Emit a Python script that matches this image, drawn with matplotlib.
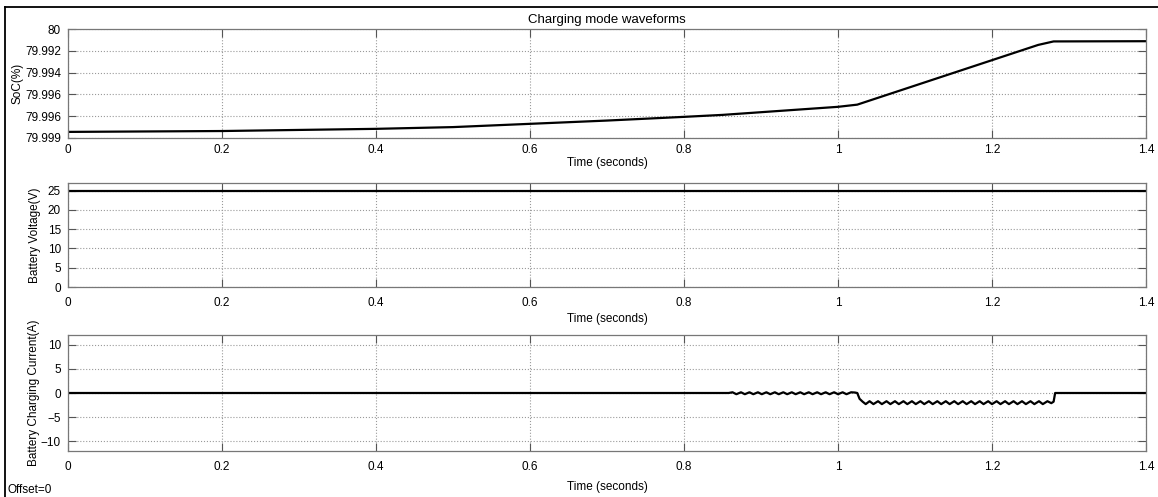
import matplotlib
matplotlib.use("Agg")
import matplotlib.pyplot as plt
from matplotlib.lines import Line2D

plt.rcParams['font.family'] = ['Liberation Sans', 'DejaVu Sans']

# SoC trace, in grid units (0 = bottom tick, 5 = top tick)
soc_t = [0.0, 0.2, 0.4, 0.5, 0.6, 0.7, 0.8, 0.85, 1.0, 1.025, 1.26, 1.28, 1.4]
soc_v = [0.28, 0.32, 0.42, 0.50, 0.65, 0.80, 0.97, 1.06, 1.43, 1.53, 4.27, 4.43, 4.44]
soc_ticks = [0, 1, 2, 3, 4, 5]
soc_labels = ['79.999', '79.996', '79.996', '79.994', '79.992', '80']

# battery voltage
volt_t = [0.0, 1.4]
volt_v = [24.8, 24.8]

# charging current, with the ripple read as alternating peaks
cur_t = [0.0, 0.858,
         0.863, 0.868, 0.874, 0.879, 0.885, 0.890, 0.896, 0.901, 0.907, 0.912,
         0.918, 0.923, 0.929, 0.934, 0.940, 0.945, 0.951, 0.956, 0.962, 0.967,
         0.973, 0.978, 0.984, 0.989, 0.995, 1.000, 1.006, 1.011, 1.017, 1.022,
         1.025, 1.028, 1.032,
         1.036, 1.041, 1.046, 1.052, 1.057, 1.063, 1.068, 1.074, 1.079, 1.085,
         1.090, 1.096, 1.101, 1.107, 1.112, 1.118, 1.123, 1.129, 1.134, 1.140,
         1.145, 1.151, 1.156, 1.162, 1.167, 1.173, 1.178, 1.184, 1.189, 1.195,
         1.200, 1.206, 1.211, 1.217, 1.222, 1.228, 1.233, 1.239, 1.244, 1.250,
         1.255, 1.261, 1.266, 1.272, 1.277,
         1.280, 1.282, 1.4]
cur_v = [0.0, 0.0,
         0.15, -0.25, 0.15, -0.25, 0.15, -0.25, 0.15, -0.25, 0.15, -0.25,
         0.15, -0.25, 0.15, -0.25, 0.15, -0.25, 0.15, -0.25, 0.15, -0.25,
         0.15, -0.25, 0.15, -0.25, 0.15, -0.25, 0.15, -0.25, 0.15, 0.1,
         0.0, -1.2, -1.8,
         -2.3, -1.7, -2.3, -1.7, -2.3, -1.7, -2.3, -1.7, -2.3, -1.7,
         -2.3, -1.7, -2.3, -1.7, -2.3, -1.7, -2.3, -1.7, -2.3, -1.7,
         -2.3, -1.7, -2.3, -1.7, -2.3, -1.7, -2.3, -1.7, -2.3, -1.7,
         -2.3, -1.7, -2.3, -1.7, -2.3, -1.7, -2.3, -1.7, -2.3, -1.7,
         -2.3, -1.7, -2.3, -1.7, -2.1,
         -1.8, 0.0, 0.0]

x_ticks = [0, 0.2, 0.4, 0.6, 0.8, 1.0, 1.2, 1.4]
x_labels = ['0', '0.2', '0.4', '0.6', '0.8', '1', '1.2', '1.4']

W, H = 1158, 497
fig = plt.figure(figsize=(W / 100, H / 100), dpi=100)
FS = 8.5


def make_axes(top_px, bottom_px):
    left, right = 68, 1146
    return fig.add_axes([left / W, 1 - bottom_px / H, (right - left) / W, (bottom_px - top_px) / H])


def style(ax, xpad, lpad):
    ax.set_xlim(0, 1.4)
    ax.set_xticks(x_ticks)
    ax.set_xticklabels(x_labels)
    ax.grid(True, color='#9a9a9a', linestyle=':', linewidth=0.8)
    ax.tick_params(direction='in', length=6, width=0.8, color='#555555',
                   top=True, right=True, labelsize=FS, pad=5)
    ax.tick_params(axis='x', pad=xpad)
    for s in ax.spines.values():
        s.set_color('#777777')
        s.set_linewidth(0.9)
    ax.set_xlabel('Time (seconds)', fontsize=FS, labelpad=lpad)


ax1 = make_axes(29, 138)
ax1.plot(soc_t, soc_v, color='black', linewidth=1.6)
ax1.set_ylim(0, 5)
ax1.set_yticks(soc_ticks)
ax1.set_yticklabels(soc_labels)
style(ax1, 4, 1)
ax1.set_ylabel('SoC(%)', fontsize=FS, labelpad=1)
ax1.set_title('Charging mode waveforms', fontsize=9.5, pad=4)

ax2 = make_axes(183, 287)
ax2.plot(volt_t, volt_v, color='black', linewidth=1.6)
ax2.set_ylim(0, 27)
ax2.set_yticks([0, 5, 10, 15, 20, 25])
style(ax2, 7, 3)
ax2.set_ylabel('Battery Voltage(V)', fontsize=FS, labelpad=5)

ax3 = make_axes(335, 451)
ax3.plot(cur_t, cur_v, color='black', linewidth=1.6)
ax3.set_ylim(-12, 12)
ax3.set_yticks([-10, -5, 0, 5, 10])
style(ax3, 7, 6)
ax3.set_ylabel('Battery Charging Current(A)', fontsize=FS, labelpad=1)

fig.text(8 / W, 1 - 490 / H, 'Offset=0', fontsize=FS, va='center', ha='left')

# outer frame: only the top and left edges show in the picture
fig.lines.append(Line2D([5 / W, 1.0], [1 - 7 / H, 1 - 7 / H], transform=fig.transFigure,
                        color='black', linewidth=1.3))
fig.lines.append(Line2D([5 / W, 5 / W], [0.0, 1 - 7 / H], transform=fig.transFigure,
                        color='black', linewidth=1.3))

fig.savefig('out.png', dpi=100)
